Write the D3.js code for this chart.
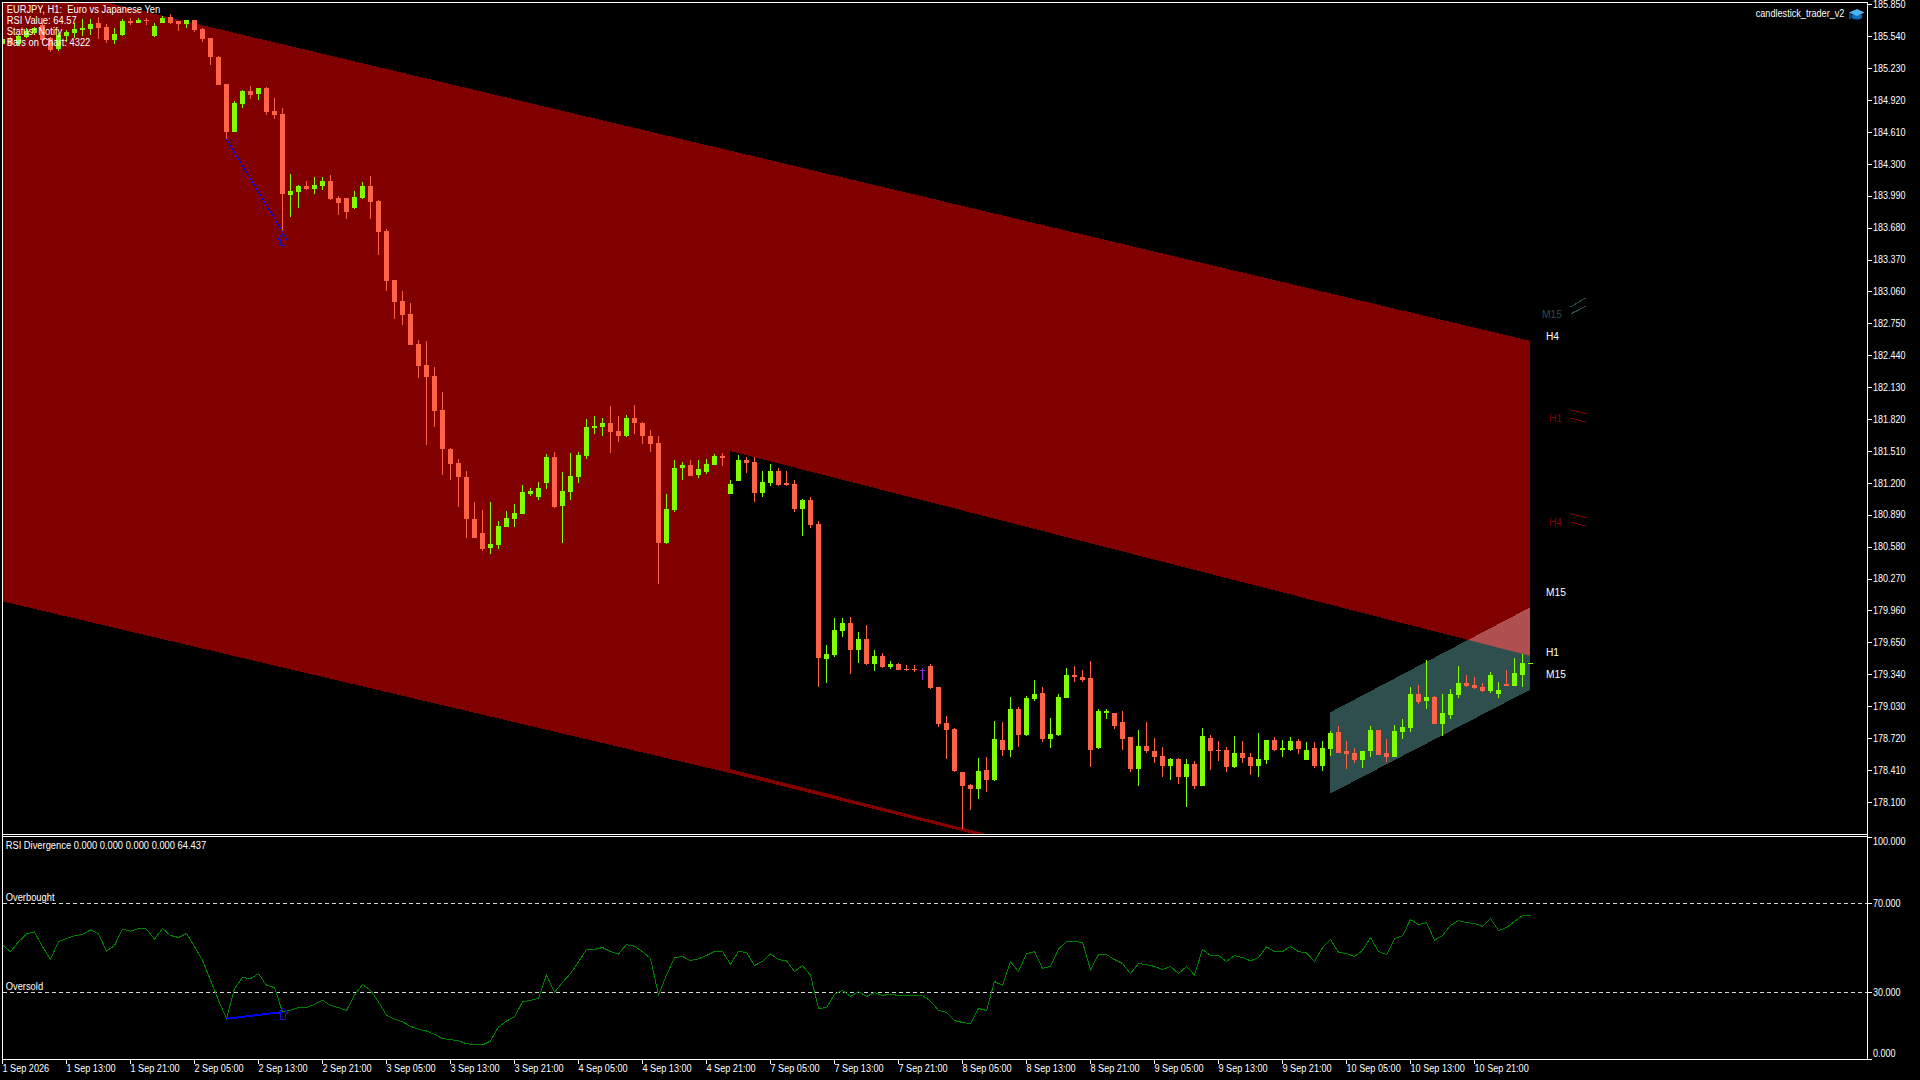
<!DOCTYPE html>
<html>
<head>
<meta charset="utf-8">
<title>EURJPY H1</title>
<script src="https://cdn.jsdelivr.net/npm/d3@7"></script>
<style>
    html, body { margin: 0; padding: 0; background: #000; overflow: hidden; }
    svg { display: block; }
    text { font-family: "Liberation Sans", Arial, sans-serif; font-size: 10px; fill: #fff; white-space: pre; }
</style>
</head>
<body>
<div id="chart"></div>
<script>
var opens = [
    185.46,185.52,185.46,185.53,185.57,185.65,185.52,185.42,185.54,185.57,
    185.60,185.61,185.67,185.63,185.50,185.55,185.69,185.67,185.70,185.54,
    185.67,185.73,185.69,185.66,185.70,185.61,185.52,185.34,185.08,184.61,
    184.88,185.01,184.98,185.04,184.81,184.78,184.00,184.03,184.08,184.06,
    184.08,184.13,183.97,183.97,183.87,183.97,184.08,183.94,183.65,183.17,
    182.97,182.84,182.55,182.35,182.24,181.91,181.53,181.39,181.26,180.85,
    180.71,180.57,180.60,180.77,180.85,180.90,181.09,181.06,181.20,181.45,
    180.98,181.11,181.26,181.46,181.73,181.74,181.78,181.70,181.66,181.83,
    181.78,181.66,181.59,180.62,180.94,181.34,181.37,181.28,181.31,181.37,
    181.46,181.09,181.22,181.42,181.40,181.10,181.20,181.32,181.20,181.19,
    180.95,181.03,180.80,179.49,179.53,179.76,179.84,179.58,179.68,179.44,
    179.52,179.41,179.44,179.39,179.39,179.38,179.42,179.22,178.87,178.81,
    178.39,178.26,178.23,178.41,178.31,178.70,178.60,179.00,178.75,179.10,
    179.16,178.71,178.75,179.11,179.33,179.31,179.30,178.62,178.96,178.96,
    178.88,178.73,178.42,178.64,178.59,178.55,178.45,178.52,178.34,178.47,
    178.25,178.72,178.60,178.60,178.44,178.58,178.54,178.45,178.51,178.70,
    178.60,178.60,178.69,178.51,178.62,178.45,178.61,178.78,178.59,178.58,
    178.51,178.59,178.80,178.58,178.54,178.78,178.82,179.15,179.08,179.12,
    178.86,178.94,179.14,179.26,179.24,179.22,179.18,179.15,179.25,179.23,
    179.33,179.44
];
var highs = [
    185.53,185.53,185.55,185.62,185.63,185.67,185.53,185.57,185.60,185.67,
    185.71,185.71,185.73,185.66,185.62,185.71,185.72,185.72,185.72,185.67,
    185.74,185.76,185.69,185.70,185.70,185.62,185.52,185.35,185.08,184.91,
    185.02,185.06,185.04,185.05,184.94,184.84,184.20,184.09,184.13,184.17,
    184.17,184.19,183.99,183.97,184.04,184.12,184.18,183.95,183.67,183.17,
    183.06,182.95,182.59,182.58,182.33,182.08,181.54,181.43,181.32,181.01,
    180.94,181.01,180.83,180.93,180.99,181.18,181.15,181.21,181.48,181.50,
    181.31,181.49,181.50,181.82,181.85,181.83,181.95,181.85,181.86,181.96,
    181.79,181.71,181.66,181.09,181.42,181.40,181.42,181.42,181.43,181.48,
    181.49,181.23,181.47,181.45,181.45,181.32,181.38,181.34,181.32,181.23,
    181.04,181.06,180.83,179.62,179.89,179.89,179.90,179.75,179.82,179.58,
    179.55,179.47,179.45,179.43,179.43,179.40,179.44,179.22,178.93,178.82,
    178.39,178.27,178.53,178.54,178.89,178.88,179.12,179.02,179.13,179.28,
    179.22,178.92,179.15,179.40,179.42,179.38,179.47,179.00,179.00,178.96,
    178.98,178.73,178.80,178.88,178.72,178.63,178.53,178.53,178.52,178.50,
    178.82,178.75,178.69,178.63,178.74,178.69,178.58,178.77,178.70,178.73,
    178.70,178.73,178.71,178.68,178.68,178.69,178.79,178.84,178.69,178.62,
    178.59,178.84,178.80,178.71,178.85,178.91,179.22,179.24,179.48,179.13,
    179.15,179.20,179.42,179.33,179.31,179.26,179.36,179.27,179.38,179.50,
    179.54,179.45
];
var lows = [
    185.46,185.45,185.44,185.52,185.55,185.48,185.39,185.40,185.48,185.52,
    185.54,185.55,185.51,185.47,185.46,185.54,185.65,185.67,185.65,185.53,
    185.67,185.66,185.59,185.62,185.58,185.48,185.26,185.07,184.54,184.61,
    184.84,184.93,184.92,184.77,184.74,183.64,183.78,183.87,184.05,184.01,
    184.05,183.95,183.80,183.76,183.86,183.96,183.76,183.41,183.06,182.79,
    182.73,182.54,182.22,181.57,181.74,181.28,181.23,180.97,180.66,180.66,
    180.54,180.51,180.56,180.77,180.77,180.90,181.07,181.03,181.14,180.96,
    180.62,181.03,181.20,181.43,181.67,181.66,181.49,181.60,181.65,181.67,
    181.58,181.50,180.22,180.61,180.92,181.23,181.27,181.25,181.29,181.37,
    181.36,181.09,181.22,181.30,181.01,181.06,181.17,181.17,181.17,180.92,
    180.68,180.76,179.22,179.26,179.51,179.70,179.34,179.45,179.43,179.37,
    179.40,179.39,179.38,179.37,179.36,179.28,179.20,178.83,178.52,178.39,
    177.84,178.02,178.13,178.20,178.30,178.55,178.54,178.63,178.74,179.08,
    178.68,178.62,178.74,179.11,179.27,179.27,178.44,178.61,178.91,178.81,
    178.60,178.39,178.25,178.58,178.48,178.34,178.31,178.27,178.05,178.23,
    178.25,178.41,178.50,178.39,178.43,178.48,178.36,178.34,178.47,178.59,
    178.54,178.59,178.57,178.51,178.43,178.40,178.55,178.58,178.42,178.48,
    178.43,178.54,178.56,178.49,178.54,178.71,178.78,179.05,179.00,178.86,
    178.74,178.91,179.11,179.22,179.20,179.17,179.16,179.11,179.23,179.23,
    179.22,179.44
];
var closes = [
    185.51,185.46,185.54,185.59,185.62,185.50,185.41,185.55,185.58,185.61,
    185.62,185.66,185.62,185.50,185.56,185.69,185.67,185.70,185.69,185.64,
    185.72,185.67,185.66,185.70,185.60,185.51,185.34,185.07,184.61,184.89,
    185.01,184.97,185.04,184.80,184.77,184.01,184.04,184.08,184.06,184.09,
    184.13,183.96,183.92,183.83,183.98,184.08,183.93,183.64,183.16,182.96,
    182.83,182.54,182.34,182.23,181.90,181.53,181.38,181.26,180.85,180.66,
    180.56,180.61,180.78,180.86,180.91,181.11,181.12,181.15,181.45,180.97,
    181.12,181.27,181.47,181.74,181.75,181.78,181.69,181.66,181.83,181.78,
    181.66,181.58,180.62,180.95,181.34,181.37,181.27,181.33,181.38,181.46,
    181.44,181.19,181.42,181.39,181.10,181.21,181.32,181.18,181.18,180.95,
    181.03,180.79,179.50,179.54,179.77,179.84,179.58,179.68,179.44,179.52,
    179.41,179.44,179.38,179.38,179.38,179.37,179.21,178.86,178.80,178.40,
    178.25,178.23,178.40,178.31,178.71,178.60,179.00,178.75,179.11,179.15,
    178.71,178.76,179.12,179.33,179.31,179.28,178.60,178.98,178.98,178.84,
    178.71,178.42,178.64,178.59,178.54,178.45,178.52,178.34,178.47,178.25,
    178.74,178.59,178.59,178.44,178.58,178.53,178.45,178.52,178.70,178.60,
    178.62,178.69,178.61,178.60,178.45,178.62,178.77,178.58,178.57,178.51,
    178.59,178.80,178.56,178.54,178.79,178.83,179.15,179.07,179.12,178.86,
    178.96,179.15,179.26,179.23,179.21,179.18,179.33,179.19,179.23,179.35,
    179.45,179.45
];
var rsiValues = [
    51.2,48.2,52.7,56.2,57.1,50.5,44.8,52.7,54.2,55.3,
    56.0,58.0,56.3,48.5,51.0,58.4,57.5,58.7,58.4,53.9,
    58.7,55.5,54.6,56.4,50.5,44.4,35.4,26.4,18.1,31.6,
    36.6,36.1,38.4,33.1,32.1,21.1,21.9,23.1,23.1,24.6,
    26.4,24.1,23.1,21.8,28.7,33.5,30.9,25.7,19.7,17.9,
    16.7,14.7,13.4,12.6,11.1,9.2,8.7,8.1,6.9,6.3,
    6.3,8.1,14.4,17.1,18.9,25.7,26.4,27.2,37.7,30.0,
    34.4,38.4,43.7,49.2,49.2,50.1,48.3,47.2,51.4,50.7,
    48.2,45.2,28.7,37.7,45.5,46.1,44.2,45.0,46.5,48.3,
    48.3,42.6,48.3,47.9,42.0,43.9,47.2,44.7,44.1,39.3,
    42.0,37.7,22.7,23.1,29.1,30.8,28.1,30.3,28.1,29.9,
    28.5,29.2,28.5,28.5,28.5,28.5,26.0,21.9,20.9,17.3,
    16.4,15.9,22.7,21.8,34.8,33.1,43.8,39.3,47.4,48.3,
    40.7,41.6,49.4,52.8,52.8,52.4,40.2,46.9,46.9,44.7,
    42.9,38.4,42.9,42.4,41.6,40.2,41.6,38.4,41.6,37.8,
    49.2,46.5,46.5,43.8,46.5,45.6,44.1,45.6,50.4,48.3,
    48.3,50.5,48.3,47.7,43.8,50.1,53.7,47.9,47.4,46.1,
    48.8,54.6,48.3,46.9,54.1,55.3,62.7,60.4,61.3,53.4,
    55.5,60.1,62.2,61.3,60.9,59.6,63.2,57.7,59.1,61.8,
    64.5,64.5
];
var dojiBars = [115];
var divergenceBars = [28, 35];

var priceTicks = [185.85,185.54,185.23,184.92,184.61,184.30,183.99,183.68,183.37,183.06,182.75,182.44,182.13,
    181.82,181.51,181.20,180.89,180.58,180.27,179.96,179.65,179.34,179.03,178.72,178.41,178.10];
var rsiTicks = [100, 70, 30, 0];
var rsiLevels = [70, 30];
var timeTicks = d3.range(0, 192, 8);
var timeLabels = ["1 Sep 2026","1 Sep 13:00","1 Sep 21:00","2 Sep 05:00","2 Sep 13:00","2 Sep 21:00","3 Sep 05:00",
    "3 Sep 13:00","3 Sep 21:00","4 Sep 05:00","4 Sep 13:00","4 Sep 21:00","7 Sep 05:00","7 Sep 13:00","7 Sep 21:00",
    "8 Sep 05:00","8 Sep 13:00","8 Sep 21:00","9 Sep 05:00","9 Sep 13:00","9 Sep 21:00","10 Sep 05:00","10 Sep 13:00","10 Sep 21:00"];

// channels as [bar, price] corners
var redChannel = [[0,186.11],[191,182.58],[191,179.52],[91,181.51],[91,178.38],[0,180.05]];
var redSliver = [[91,178.42],[125,177.75],[125,177.72],[91,178.38]];
var tealChannel = [[166,178.97],[191,179.99],[191,179.19],[166,178.18]];

// little timeframe marks right of the chart: [bar, price, bar, price]
var tealMarks = [[196,182.91,198,183.00],[196,182.84,198,182.92]];
var redMarks = [[196,181.91,198,181.87],[196,181.83,198,181.79],[196,180.90,198,180.86],[196,180.82,198,180.78]];

var headerLines = ["EURJPY, H1:  Euro vs Japanese Yen","RSI Value: 64.57","Status: Notify","Bars on Chart: 4322"];
var timeframeLabels = [
    {text: "M15", price: 182.84, color: "#2f4f4f", left: 1542},
    {text: "H4", price: 182.62, color: "#ffffff", left: 1546},
    {text: "H1", price: 181.83, color: "#800000", left: 1549},
    {text: "H4", price: 180.82, color: "#800000", left: 1549},
    {text: "M15", price: 180.14, color: "#ffffff", left: 1546},
    {text: "H1", price: 179.55, color: "#ffffff", left: 1546},
    {text: "M15", price: 179.34, color: "#ffffff", left: 1546}
];

var RED = "#ff6347", GREEN = "#7fff00", PURPLE = "#8a2be2", DARK_RED = "#800000", TEAL = "#2f4f4f";
var squeeze = 0.913;

var svg = d3.select("#chart").append("svg").attr("width", 1920).attr("height", 1080)
    .attr("shape-rendering", "crispEdges");
var x = d3.scaleLinear().domain([0, 191]).range([2.5, 1530.5]);
var y = d3.scaleLinear().domain([185.85, 179.34]).range([4.3, 674.3]);
var yRsi = d3.scaleLinear().domain([0, 100]).range([1059, 836.5]);

function label(parent, left, middle, text, color, stretch) {
    return parent.append("text")
        .attr("transform", `translate(${left},${middle + 3.6}) scale(${stretch || squeeze},1)`)
        .style("fill", color || "#fff")
        .text(text);
}

function cornerPath(corners) {
    return d3.line().x(function(d) { return x(d[0]) - 0.5; }).y(function(d) { return y(d[1]); })(corners) + "Z";
}

function arrow(parent, cx, tip, color) {
    let path = d3.path();
    path.moveTo(cx, tip);
    path.lineTo(cx + 4.5, tip + 5.5);
    path.lineTo(cx + 2.5, tip + 5.5);
    path.lineTo(cx + 2.5, tip + 11.5);
    path.lineTo(cx - 2.5, tip + 11.5);
    path.lineTo(cx - 2.5, tip + 5.5);
    path.lineTo(cx - 4.5, tip + 5.5);
    path.closePath();
    parent.append("path").attr("d", path.toString())
        .attr("fill", "none").attr("stroke", color).attr("stroke-width", 1);
}

function generateDefs() {
    let defs = svg.append("defs");
    defs.append("clipPath").attr("id", "main-clip").append("rect")
        .attr("x", 3).attr("y", 3).attr("width", 1864).attr("height", 831);
    defs.append("clipPath").attr("id", "red-clip").append("path")
        .attr("d", cornerPath(redChannel));
}

function generateChannels(main) {
    main.append("path").attr("d", cornerPath(redChannel)).attr("fill", DARK_RED);
    main.append("path").attr("d", cornerPath(redSliver)).attr("fill", DARK_RED);
    main.append("path").attr("d", cornerPath(tealChannel)).attr("fill", TEAL);
    // overlap of the two channels comes out lighter on the terminal
    main.append("path").attr("d", cornerPath(tealChannel)).attr("fill", "#af4f4f")
        .attr("clip-path", "url(#red-clip)");
}

function candleColor(i) {
    if (dojiBars.indexOf(i) >= 0) {
        return PURPLE;
    }
    return closes[i] >= opens[i] ? GREEN : RED;
}

function generateCandles(main) {
    let bars = main.append("g").attr("class", "candles").selectAll("g")
        .data(d3.range(opens.length)).enter().append("g")
        .attr("fill", candleColor);
    bars.append("rect")
        .attr("x", function(i) { return x(i) - 0.5; })
        .attr("width", 1)
        .attr("y", function(i) { return Math.round(y(highs[i])); })
        .attr("height", function(i) { return Math.max(1, Math.round(y(lows[i])) - Math.round(y(highs[i]))); });
    bars.append("rect")
        .attr("x", function(i) { return x(i) - 2.5; })
        .attr("width", 5)
        .attr("y", function(i) { return Math.round(y(Math.max(opens[i], closes[i]))); })
        .attr("height", function(i) {
            return Math.max(1, Math.round(y(Math.min(opens[i], closes[i]))) - Math.round(y(Math.max(opens[i], closes[i]))));
        });
}

function generateDivergence(main) {
    main.append("path")
        .attr("d", d3.line().x(function(i) { return x(i); }).y(function(i) { return y(lows[i]); })(divergenceBars))
        .attr("fill", "none").attr("stroke", "#0000ff").attr("stroke-width", 1);
    let last = divergenceBars[1];
    arrow(main, x(last), y(lows[last]) + 2, "#1a10c8");
}

function generateTimeframeLabels(main) {
    timeframeLabels.forEach(function(d) {
        label(main, d.left, y(d.price), d.text, d.color, 1.02);
    });
    [[tealMarks, TEAL], [redMarks, DARK_RED]].forEach(function(group) {
        main.selectAll(null).data(group[0]).enter().append("line")
            .attr("x1", function(d) { return x(d[0]); })
            .attr("y1", function(d) { return y(d[1]); })
            .attr("x2", function(d) { return x(d[2]); })
            .attr("y2", function(d) { return y(d[3]); })
            .attr("stroke", group[1]);
    });
}

function generateHeader() {
    headerLines.forEach(function(text, i) {
        label(svg, 6.7, 9.7 + i * 11, text, "#fff", 0.935);
    });
    label(svg, 1755.7, 13.7, "candlestick_trader_v2");
    let cap = svg.append("g").attr("class", "cap").attr("shape-rendering", "auto");
    cap.append("path").attr("d", "M1851.5,14.5 L1851.5,18 Q1857,21 1862,18 L1862,14.5 Z").attr("fill", "#0f6cbd");
    cap.append("path").attr("d", "M1849,12.5 L1857,9 L1864.5,12.5 L1857,16 Z").attr("fill", "#4fb3f0");
    cap.append("path").attr("d", "M1850,13 L1850,19").attr("stroke", "#0f6cbd").attr("stroke-width", 1.4);
}

function generateRsi() {
    let pane = svg.append("g").attr("class", "rsi");
    pane.selectAll("line.level").data(rsiLevels).enter().append("line")
        .attr("class", "level")
        .attr("x1", 3).attr("x2", 1867)
        .attr("y1", function(d) { return yRsi(d); })
        .attr("y2", function(d) { return yRsi(d); })
        .attr("stroke", "#d8d8d8").attr("stroke-dasharray", "4,3");
    pane.append("path")
        .attr("d", d3.line().x(function(d, i) { return x(i); }).y(function(d) { return yRsi(d); })(rsiValues))
        .attr("fill", "none").attr("stroke", "#008000").attr("stroke-width", 1);
    pane.append("path")
        .attr("d", d3.line().x(function(i) { return x(i); }).y(function(i) { return yRsi(rsiValues[i]); })(divergenceBars))
        .attr("fill", "none").attr("stroke", "#0000ff").attr("stroke-width", 2);
    let last = divergenceBars[1];
    arrow(pane, x(last) + 0.5, yRsi(rsiValues[last]) - 4.3, "#1a10c8");
    label(pane, 5.7, 845.7, "RSI Divergence 0.000 0.000 0.000 0.000 64.437", "#fff", 0.935);
    label(pane, 5.7, 897.7, "Overbought", "#fff", 0.935);
    label(pane, 5.7, 986.7, "Oversold", "#fff", 0.935);
}

function generateAxes() {
    let priceAxis = svg.append("g").attr("transform", "translate(1867,0)")
        .call(d3.axisRight(y).tickValues(priceTicks).tickFormat(d3.format(".3f")).tickSize(5).tickPadding(1));
    let rsiAxis = svg.append("g").attr("transform", "translate(1867,0)")
        .call(d3.axisRight(yRsi).tickValues(rsiTicks).tickFormat(d3.format(".3f")).tickSize(5).tickPadding(1));
    let timeAxis = svg.append("g").attr("transform", "translate(0,1059)")
        .call(d3.axisBottom(x).tickValues(timeTicks).tickFormat(function(d, i) { return timeLabels[i]; })
            .tickSize(5).offset(0));
    [priceAxis, rsiAxis, timeAxis].forEach(function(axis) {
        axis.select(".domain").remove();
        axis.attr("font-family", null).attr("font-size", null);
        axis.selectAll("line").attr("stroke", "#fff");
    });
    [priceAxis, rsiAxis].forEach(function(axis) {
        axis.selectAll("text").attr("x", 6 / 0.9).attr("text-anchor", "start")
            .attr("transform", "scale(0.9,1)").style("fill", "#fff");
    });
    // the terminal pulls the end labels inside the pane
    rsiAxis.selectAll("text").attr("y", function(d) {
        return d === 100 ? 4.5 : (d === 0 ? -6 : 0);
    });
    timeAxis.selectAll("text").attr("x", 0).attr("y", 13.3).attr("dy", 0)
        .attr("text-anchor", "start").attr("transform", "scale(" + squeeze + ",1)").style("fill", "#fff");
}

function generateFrame() {
    let frame = svg.append("g").attr("class", "frame").attr("fill", "#fff");
    frame.append("rect").attr("x", 2).attr("y", 2).attr("width", 1866).attr("height", 1);
    frame.append("rect").attr("x", 2).attr("y", 834).attr("width", 1866).attr("height", 1);
    frame.append("rect").attr("x", 2).attr("y", 836).attr("width", 1866).attr("height", 1);
    frame.append("rect").attr("x", 2).attr("y", 1059).attr("width", 1866).attr("height", 1);
    frame.append("rect").attr("x", 2).attr("y", 2).attr("width", 1).attr("height", 1058);
    frame.append("rect").attr("x", 1867).attr("y", 2).attr("width", 1).attr("height", 1058);
}

function initialLoad() {
    generateDefs();
    let main = svg.append("g").attr("class", "main").attr("clip-path", "url(#main-clip)");
    generateChannels(main);
    generateCandles(main);
    generateDivergence(main);
    generateTimeframeLabels(main);
    generateRsi();
    generateFrame();
    generateAxes();
    generateHeader();
}

initialLoad();
</script>
</body>
</html>
